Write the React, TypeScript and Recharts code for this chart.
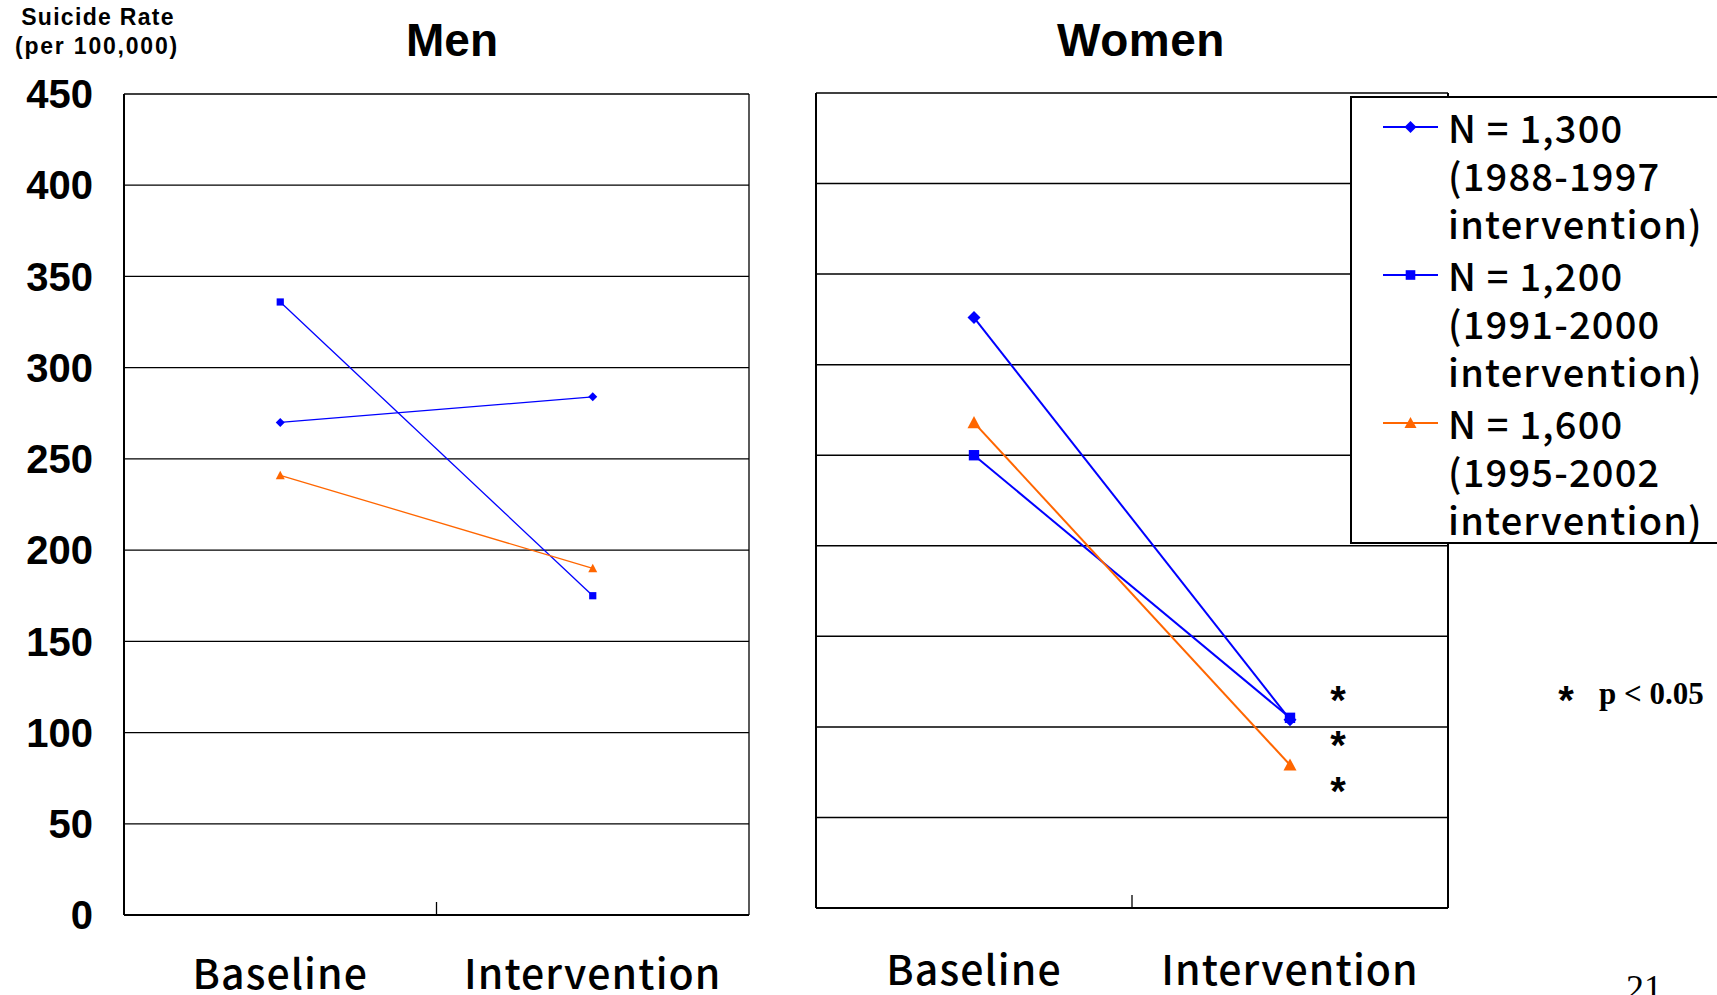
import React from 'react';
import { LineChart, Line, XAxis, YAxis, CartesianGrid, ReferenceLine, Legend } from 'recharts';

// ---------- data ----------
const categories = ['Baseline', 'Intervention'];
const yTicks = [0, 50, 100, 150, 200, 250, 300, 350, 400, 450];

const menN1300 = [270, 284];
const menN1200 = [336, 175];
const menN1600 = [241, 190];

const womenN1300 = [326, 104];
const womenN1200 = [250, 105];
const womenN1600 = [268, 79];

const seriesNames = ['N = 1,300', 'N = 1,200', 'N = 1,600'];
const seriesPeriods = ['(1988-1997', '(1991-2000', '(1995-2002'];
const seriesTail = ['intervention)', 'intervention)', 'intervention)'];
const seriesShapes = ['diamond', 'square', 'triangle'];
const seriesColors = ['#0000FF', '#0000FF', '#FF6600'];
const significanceMarks = ['*', '*', '*'];

const buildData = (a: number[], b: number[], c: number[]) =>
  categories.map((label, i) => ({ pos: i + 0.5, label, s0: a[i], s1: b[i], s2: c[i] }));

const menData = buildData(menN1300, menN1200, menN1600);
const womenData = buildData(womenN1300, womenN1200, womenN1600);

const CJK = '"Noto Sans CJK JP", "Noto Sans", sans-serif';
const SANS = '"Liberation Sans", Arial, sans-serif';
const SERIF = '"Liberation Serif", "Times New Roman", serif';

// ---------- markers ----------
function Marker({ shape, cx, cy, size, color }: any) {
  const h = size / 2;
  if (shape === 'diamond')
    return <polygon points={`${cx},${cy - h} ${cx + h},${cy} ${cx},${cy + h} ${cx - h},${cy}`} fill={color} />;
  if (shape === 'square') {
    const s = size * 0.8;
    return <rect x={cx - s / 2} y={cy - s / 2} width={s} height={s} fill={color} />;
  }
  return <polygon points={`${cx},${cy - h} ${cx + h},${cy + h * 0.85} ${cx - h},${cy + h * 0.85}`} fill={color} />;
}

const makeDot = (shape: string, size: number, color: string) => (props: any) => {
  const { cx, cy, index } = props;
  if (cx == null || cy == null) return <g key={`d-${index}`} />;
  return (
    <g key={`d-${shape}-${index}`}>
      <Marker shape={shape} cx={cx} cy={cy} size={size} color={color} />
    </g>
  );
};

const makeXTick = (dy: number) => (props: any) => {
  const { x, y, payload } = props;
  const v = payload.value;
  if (v === 1) {
    return <line x1={x} x2={x} y1={y} y2={y - 13} stroke="#000" strokeWidth={1.3} />;
  }
  const label = categories[Math.floor(v)];
  return (
    <text
      x={x}
      y={y + dy}
      textAnchor="middle"
      dominantBaseline="central"
      fill="#000"
      style={{ fontFamily: CJK, fontSize: 41, fontWeight: 500, letterSpacing: 1.1 }}
    >
      {label}
    </text>
  );
};

const emptyTick = () => <g />;

// ---------- legend ----------
function LegendBox() {
  return (
    <div
      style={{
        position: 'relative',
        width: 420,
        height: 448,
        boxSizing: 'border-box',
        border: '2px solid #000',
        background: '#fff',
      }}
    >
      {seriesNames.map((name, i) => (
        <div key={name} style={{ position: 'absolute', left: 0, top: 5 + i * 148, width: 400 }}>
          <svg width={56} height={48} style={{ position: 'absolute', left: 31, top: 0 }}>
            <line x1={0} x2={55} y1={24} y2={24} stroke={seriesColors[i]} strokeWidth={2} />
            <Marker shape={seriesShapes[i]} cx={27.5} cy={24} size={12} color={seriesColors[i]} />
          </svg>
          {[name, seriesPeriods[i], seriesTail[i]].map((t, j) => (
            <div
              key={j}
              style={{
                position: 'absolute',
                left: 96,
                top: j * 48,
                height: 48,
                lineHeight: '48px',
                fontFamily: CJK,
                fontSize: 38,
                fontWeight: 500,
                letterSpacing: 1.2,
                color: '#000',
                whiteSpace: 'nowrap',
              }}
            >
              {t}
            </div>
          ))}
        </div>
      ))}
    </div>
  );
}

export default function App() {
  const lineProps = (i: number, size: number, width: number) => ({
    type: 'linear' as const,
    dataKey: `s${i}`,
    name: seriesNames[i],
    stroke: seriesColors[i],
    strokeWidth: width,
    dot: makeDot(seriesShapes[i], size, seriesColors[i]),
    activeDot: false as const,
    isAnimationActive: false,
  });

  return (
    <div
      style={{
        position: 'absolute',
        left: 0,
        top: 0,
        width: 1717,
        height: 995,
        overflow: 'hidden',
        background: '#fff',
      }}
    >
      {/* Men */}
      <div style={{ position: 'absolute', left: 0, top: 0 }}>
        <LineChart width={760} height={995} data={menData} margin={{ top: 94, right: 11, bottom: 0, left: 0 }}>
          <CartesianGrid vertical={false} stroke="#000" strokeWidth={1.3} />
          <XAxis
            type="number"
            dataKey="pos"
            domain={[0, 2]}
            ticks={[0.5, 1, 1.5]}
            interval={0}
            height={80}
            tickLine={false}
            tickSize={0}
            tickMargin={0}
            axisLine={{ stroke: '#000', strokeWidth: 2 }}
            tick={makeXTick(56)}
          />
          <YAxis
            type="number"
            domain={[0, 450]}
            ticks={yTicks}
            interval={0}
            width={124}
            tickLine={false}
            tickSize={0}
            tickMargin={31}
            axisLine={{ stroke: '#000', strokeWidth: 2 }}
            tick={{ fill: '#000', fontSize: 40, fontWeight: 700, fontFamily: SANS }}
          />
          <ReferenceLine x={2} stroke="#000" strokeWidth={1.3} />
          <Line {...lineProps(0, 9, 1.3)} />
          <Line {...lineProps(1, 9, 1.3)} />
          <Line {...lineProps(2, 9, 1.3)} />
        </LineChart>
      </div>

      {/* Women */}
      <div style={{ position: 'absolute', left: 800, top: 0 }}>
        <LineChart width={660} height={995} data={womenData} margin={{ top: 93, right: 12, bottom: 0, left: 15 }}>
          <CartesianGrid vertical={false} stroke="#000" strokeWidth={1.5} />
          <XAxis
            type="number"
            dataKey="pos"
            domain={[0, 2]}
            ticks={[0.5, 1, 1.5]}
            interval={0}
            height={87}
            tickLine={false}
            tickSize={0}
            tickMargin={0}
            axisLine={{ stroke: '#000', strokeWidth: 2 }}
            tick={makeXTick(59)}
          />
          <YAxis
            type="number"
            domain={[0, 450]}
            ticks={yTicks}
            interval={0}
            width={1}
            tick={emptyTick}
            tickLine={false}
            tickSize={0}
            axisLine={{ stroke: '#000', strokeWidth: 2 }}
          />
          <ReferenceLine x={2} stroke="#000" strokeWidth={2} />
          <Line {...lineProps(0, 13, 2)} />
          <Line {...lineProps(1, 13, 2)} />
          <Line {...lineProps(2, 13, 2)} />
          <Legend
            layout="vertical"
            align="center"
            verticalAlign="middle"
            wrapperStyle={{ position: 'absolute', left: 550, top: 96, width: 420, height: 448 }}
            content={() => <LegendBox />}
          />
        </LineChart>
      </div>

      {/* Static annotations */}
      <svg
        width={1717}
        height={995}
        style={{ position: 'absolute', left: 0, top: 0, pointerEvents: 'none' }}
      >
        <text x={98} y={17} textAnchor="middle" dominantBaseline="central"
          style={{ fontFamily: SANS, fontSize: 23, fontWeight: 700, letterSpacing: 1.3 }}>Suicide Rate</text>
        <text x={97} y={46} textAnchor="middle" dominantBaseline="central"
          style={{ fontFamily: SANS, fontSize: 23, fontWeight: 700, letterSpacing: 1.8 }}>(per 100,000)</text>
        <text x={452} y={40} textAnchor="middle" dominantBaseline="central"
          style={{ fontFamily: SANS, fontSize: 46, fontWeight: 700 }}>Men</text>
        <text x={1141} y={40} textAnchor="middle" dominantBaseline="central"
          style={{ fontFamily: SANS, fontSize: 46, fontWeight: 700, letterSpacing: 0.5 }}>Women</text>
        {significanceMarks.map((m, i) => (
          <text key={i} x={1338} y={[714, 759, 805][i]} textAnchor="middle"
            style={{ fontFamily: SANS, fontSize: 40, fontWeight: 700 }}>{m}</text>
        ))}
        <text x={1566} y={714} textAnchor="middle"
          style={{ fontFamily: SANS, fontSize: 40, fontWeight: 700 }}>*</text>
        <text x={1599} y={704}
          style={{ fontFamily: SERIF, fontSize: 31, fontWeight: 700 }}>p &lt; 0.05</text>
        <text x={1626} y={1000}
          style={{ fontFamily: SERIF, fontSize: 36, fontWeight: 400 }}>21</text>
      </svg>
    </div>
  );
}
